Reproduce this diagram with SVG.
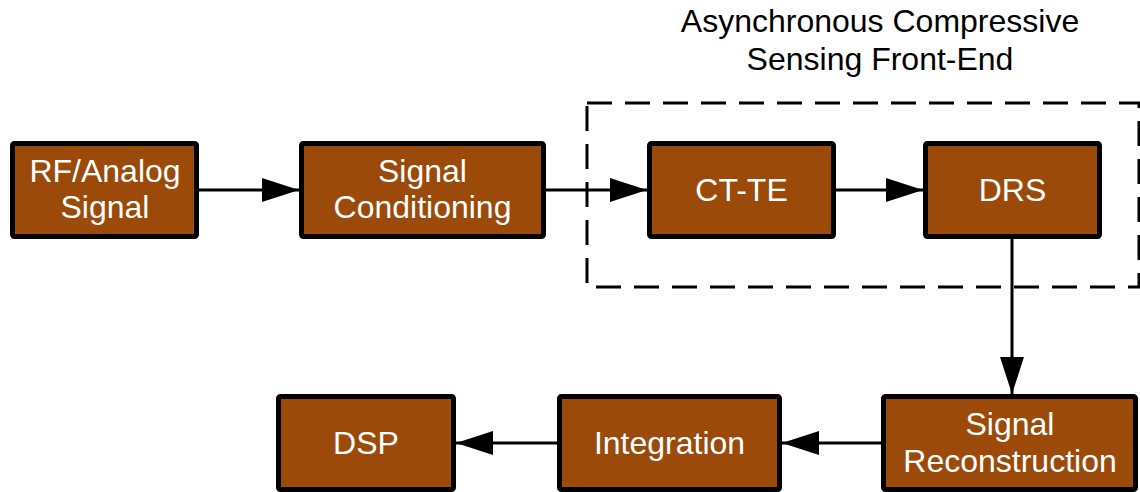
<svg xmlns="http://www.w3.org/2000/svg" width="1140" height="492" viewBox="0 0 1140 492">
  <style>
    .box { fill: #9b4a0a; stroke: #000; stroke-width: 5; }
    .lbl { font-family: "Liberation Sans", Arial, sans-serif; font-size: 32px; fill: #fff; text-anchor: middle; }
    .title { font-family: "Liberation Sans", Arial, sans-serif; font-size: 32px; fill: #000; text-anchor: middle; }
    .wire { stroke: #000; stroke-width: 3; fill: none; marker-end: url(#arrow); }
    .frame { fill: none; stroke: #000; stroke-width: 3; stroke-dasharray: 25 13; }
  </style>
  <defs>
    <marker id="arrow" markerUnits="userSpaceOnUse" markerWidth="38" markerHeight="26" refX="37" refY="12" orient="auto">
      <path d="M0,0 L37,12 L0,24 Z" fill="#000"/>
    </marker>
  </defs>

  <rect width="1140" height="492" fill="#fff"/>

  <!-- front-end grouping frame and caption -->
  <g id="frontend">
    <rect class="frame" x="587" y="103" width="552" height="184"/>
    <text class="title" x="880" y="32">Asynchronous Compressive</text>
    <text class="title" x="880" y="70">Sensing Front-End</text>
  </g>

  <g id="connectors">
    <line class="wire" x1="199" y1="190" x2="299" y2="190"/>
    <line class="wire" x1="546" y1="190" x2="647" y2="190"/>
    <line class="wire" x1="836" y1="190" x2="923" y2="190"/>
    <line class="wire" x1="1012" y1="239" x2="1012" y2="394"/>
    <line class="wire" x1="881" y1="443" x2="782" y2="443"/>
    <line class="wire" x1="557" y1="443" x2="456" y2="443"/>
  </g>

  <g id="rf-analog">
    <rect class="box" x="12.5" y="143.5" width="184" height="93" rx="2"/>
    <text class="lbl" x="105" y="182">RF/Analog</text>
    <text class="lbl" x="105" y="218">Signal</text>
  </g>

  <g id="signal-conditioning">
    <rect class="box" x="301.5" y="143.5" width="242" height="93" rx="2"/>
    <text class="lbl" x="422.5" y="182">Signal</text>
    <text class="lbl" x="422.5" y="218">Conditioning</text>
  </g>

  <g id="ct-te">
    <rect class="box" x="649.5" y="143.5" width="184" height="93" rx="2"/>
    <text class="lbl" x="741.5" y="201">CT-TE</text>
  </g>

  <g id="drs">
    <rect class="box" x="925.5" y="143.5" width="174" height="93" rx="2"/>
    <text class="lbl" x="1012.5" y="201">DRS</text>
  </g>

  <g id="signal-reconstruction">
    <rect class="box" x="883.5" y="396.5" width="252" height="93" rx="2"/>
    <text class="lbl" x="1010" y="435">Signal</text>
    <text class="lbl" x="1010" y="472">Reconstruction</text>
  </g>

  <g id="integration">
    <rect class="box" x="559.5" y="396.5" width="220" height="93" rx="2"/>
    <text class="lbl" x="669.5" y="454">Integration</text>
  </g>

  <g id="dsp">
    <rect class="box" x="278.5" y="396.5" width="175" height="93" rx="2"/>
    <text class="lbl" x="366" y="454">DSP</text>
  </g>
</svg>
